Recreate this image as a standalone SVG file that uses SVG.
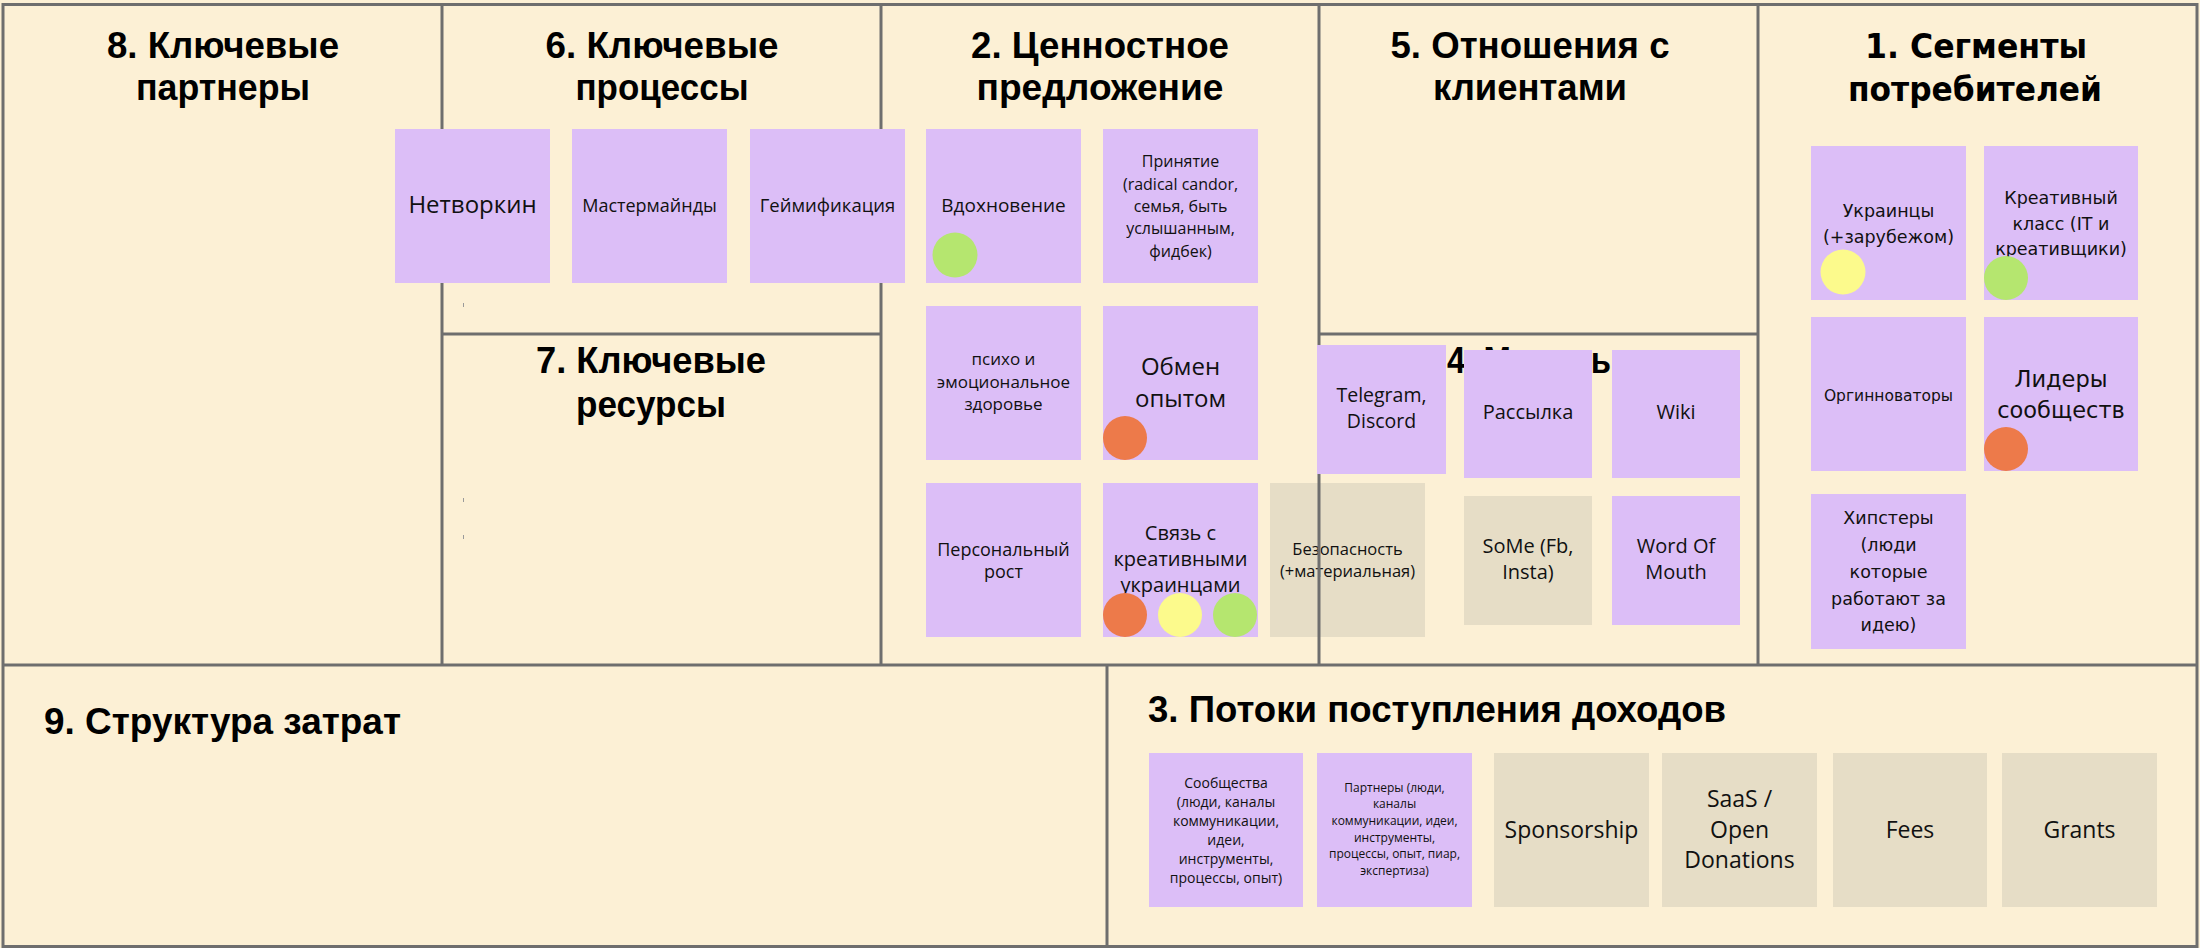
<svg xmlns="http://www.w3.org/2000/svg" width="2200" height="948" viewBox="0 0 2200 948">
<style>
.bg{fill:#fcf0d5}
.ln{stroke:#6e6e6e;stroke-width:3;fill:none}
.p{fill:#dcbef7}
.b{fill:#e6ddc6}
.t{font-family:"Liberation Sans",Arial,sans-serif;font-weight:bold;font-size:36px;fill:#000;text-anchor:middle}
.tw{font-family:"DejaVu Sans",Verdana,sans-serif;font-weight:bold;font-size:34px;fill:#000;text-anchor:middle}
.n{font-family:"Open Sans","Liberation Sans",sans-serif;fill:#111;text-anchor:middle}
.m{font-family:"DejaVu Sans",Verdana,sans-serif;fill:#111;text-anchor:middle}
.og{fill:#ed7a4a}.yl{fill:#fcfa8c}.gr{fill:#b5e66f}
.mk{fill:#9a9a9a}
</style>
<rect class="bg" x="0" y="0" width="2200" height="948"/>

<!-- section 4 title (largely hidden behind notes) -->
<text class="t" x="1447" y="373" style="text-anchor:start" textLength="164" lengthAdjust="spacingAndGlyphs">4. Модель</text>

<!-- note beneath the grid lines -->
<g id="note-bezopasnost">
<rect class="b" x="1270" y="483" width="155" height="154"/>
<text class="n" font-size="16.5" x="1347.5" y="555">Безопасность</text>
<text class="n" font-size="16.5" x="1347.5" y="577">(+материальная)</text>
</g>

<g id="grid">
<rect class="ln" x="3" y="4.5" width="2194" height="942"/>
<line class="ln" x1="3" y1="665" x2="2197" y2="665"/>
<line class="ln" x1="442" y1="4.5" x2="442" y2="665"/>
<line class="ln" x1="881" y1="4.5" x2="881" y2="665"/>
<line class="ln" x1="1319" y1="4.5" x2="1319" y2="665"/>
<line class="ln" x1="1758" y1="4.5" x2="1758" y2="665"/>
<line class="ln" x1="442" y1="334" x2="881" y2="334"/>
<line class="ln" x1="1319" y1="334" x2="1758" y2="334"/>
<line class="ln" x1="1107" y1="665" x2="1107" y2="946"/>
<rect class="mk" x="463" y="303" width="1" height="4"/>
<rect class="mk" x="463" y="498" width="1" height="4"/>
<rect class="mk" x="463" y="535" width="1" height="4"/>
</g>

<g id="connectors"></g>

<!-- section titles -->
<g id="sec-8"><text class="t" x="223" y="58" textLength="232" lengthAdjust="spacingAndGlyphs">8. Ключевые</text><text class="t" x="223" y="100" textLength="174" lengthAdjust="spacingAndGlyphs">партнеры</text></g>
<g id="sec-6"><text class="t" x="662" y="58" textLength="233" lengthAdjust="spacingAndGlyphs">6. Ключевые</text><text class="t" x="662" y="100" textLength="173" lengthAdjust="spacingAndGlyphs">процессы</text></g>
<g id="sec-7"><text class="t" x="651" y="373" textLength="230" lengthAdjust="spacingAndGlyphs">7. Ключевые</text><text class="t" x="651" y="417" textLength="150" lengthAdjust="spacingAndGlyphs">ресурсы</text></g>
<g id="sec-2"><text class="t" x="1100" y="58" textLength="258" lengthAdjust="spacingAndGlyphs">2. Ценностное</text><text class="t" x="1100" y="100" textLength="247" lengthAdjust="spacingAndGlyphs">предложение</text></g>
<g id="sec-5"><text class="t" x="1530" y="58" textLength="279" lengthAdjust="spacingAndGlyphs">5. Отношения с</text><text class="t" x="1530" y="100" textLength="194" lengthAdjust="spacingAndGlyphs">клиентами</text></g>
<g id="sec-1"><text class="tw" x="1976" y="58" textLength="222" lengthAdjust="spacingAndGlyphs">1. Сегменты</text><text class="tw" x="1975" y="101" textLength="254" lengthAdjust="spacingAndGlyphs">потребителей</text></g>
<g id="sec-9"><text class="t" x="44" y="734" style="text-anchor:start" textLength="357" lengthAdjust="spacingAndGlyphs">9. Структура затрат</text></g>
<g id="sec-3"><text class="t" x="1148" y="722" style="text-anchor:start" textLength="578" lengthAdjust="spacingAndGlyphs">3. Потоки поступления доходов</text></g>

<!-- 6. Key processes -->
<g id="note-networking"><rect class="p" x="395" y="129" width="155" height="154"/><text class="n" font-size="24" x="472.5" y="213">Нетворкин</text></g>
<g id="note-masterminds"><rect class="p" x="572" y="129" width="155" height="154"/><text class="n" font-size="18" x="649.5" y="212">Мастермайнды</text></g>
<g id="note-gamification"><rect class="p" x="750" y="129" width="155" height="154"/><text class="n" font-size="18.5" x="827.5" y="212">Геймификация</text></g>

<!-- 2. Value proposition -->
<g id="note-inspiration"><rect class="p" x="926" y="129" width="155" height="154"/><text class="n" font-size="19" x="1003.5" y="212">Вдохновение</text><circle class="gr" cx="955" cy="255" r="22.5"/></g>
<g id="note-acceptance"><rect class="p" x="1103" y="129" width="155" height="154"/>
<text class="n" font-size="16" x="1180.5" y="167">Принятие</text>
<text class="n" font-size="16" x="1180.5" y="190">(radical candor,</text>
<text class="n" font-size="16" x="1180.5" y="212">семья, быть</text>
<text class="n" font-size="16" x="1180.5" y="234">услышанным,</text>
<text class="n" font-size="16" x="1180.5" y="257">фидбек)</text></g>
<g id="note-psycho"><rect class="p" x="926" y="306" width="155" height="154"/>
<text class="n" font-size="17" x="1003.5" y="365">психо и</text>
<text class="n" font-size="17" x="1003.5" y="388">эмоциональное</text>
<text class="n" font-size="17" x="1003.5" y="410">здоровье</text></g>
<g id="note-exchange"><rect class="p" x="1103" y="306" width="155" height="154"/>
<text class="n" font-size="24" x="1180.5" y="375">Обмен</text>
<text class="n" font-size="24" x="1180.5" y="407">опытом</text>
<circle class="og" cx="1125" cy="438" r="22"/></g>
<g id="note-growth"><rect class="p" x="926" y="483" width="155" height="154"/>
<text class="n" font-size="18" x="1003.5" y="556">Персональный</text>
<text class="n" font-size="18" x="1003.5" y="578">рост</text></g>
<g id="note-connection"><rect class="p" x="1103" y="483" width="155" height="154"/>
<text class="n" font-size="20" x="1180.5" y="540">Связь с</text>
<text class="n" font-size="20" x="1180.5" y="566">креативными</text>
<text class="n" font-size="20" x="1180.5" y="592">украинцами</text>
<circle class="og" cx="1125" cy="615" r="22"/><circle class="yl" cx="1180" cy="615" r="22"/><circle class="gr" cx="1235" cy="615" r="22"/></g>

<!-- 4. Channels -->
<g id="note-telegram"><rect class="p" x="1317" y="345" width="129" height="129"/>
<text class="n" font-size="19.5" x="1381.5" y="402">Telegram,</text>
<text class="n" font-size="19.5" x="1381.5" y="428">Discord</text></g>
<g id="note-mailing"><rect class="p" x="1464" y="350" width="128" height="128"/><text class="n" font-size="20" x="1528" y="419">Рассылка</text></g>
<g id="note-wiki"><rect class="p" x="1612" y="350" width="128" height="128"/><text class="n" font-size="20" x="1676" y="419">Wiki</text></g>
<g id="note-some"><rect class="b" x="1464" y="496" width="128" height="129"/>
<text class="n" font-size="20" x="1528" y="553">SoMe (Fb,</text>
<text class="n" font-size="20" x="1528" y="579">Insta)</text></g>
<g id="note-wom"><rect class="p" x="1612" y="496" width="128" height="129"/>
<text class="n" font-size="20" x="1676" y="553">Word Of</text>
<text class="n" font-size="20" x="1676" y="579">Mouth</text></g>

<!-- 1. Customer segments -->
<g id="note-ukrainians"><rect class="p" x="1811" y="146" width="155" height="154"/>
<text class="m" font-size="17.5" x="1888.5" y="217">Украинцы</text>
<text class="m" font-size="17.5" x="1888.5" y="243">(+зарубежом)</text>
<circle class="yl" cx="1843" cy="272" r="22.5"/></g>
<g id="note-creative"><rect class="p" x="1984" y="146" width="154" height="154"/>
<text class="m" font-size="17.5" x="2061" y="204">Креативный</text>
<text class="m" font-size="17.5" x="2061" y="230">класс (IT и</text>
<text class="m" font-size="17.5" x="2061" y="255">креативщики)</text>
<circle class="gr" cx="2006" cy="278" r="22"/></g>
<g id="note-orginnovators"><rect class="p" x="1811" y="317" width="155" height="154"/><text class="m" font-size="15.5" x="1888.5" y="401">Оргинноваторы</text></g>
<g id="note-leaders"><rect class="p" x="1984" y="317" width="154" height="154"/>
<text class="m" font-size="22.5" x="2061" y="387">Лидеры</text>
<text class="m" font-size="22.5" x="2061" y="418">сообществ</text>
<circle class="og" cx="2006" cy="449" r="22"/></g>
<g id="note-hipsters"><rect class="p" x="1811" y="494" width="155" height="155"/>
<text class="m" font-size="17.5" x="1888.5" y="524">Хипстеры</text>
<text class="m" font-size="17.5" x="1888.5" y="551">(люди</text>
<text class="m" font-size="17.5" x="1888.5" y="578">которые</text>
<text class="m" font-size="17.5" x="1888.5" y="605">работают за</text>
<text class="m" font-size="17.5" x="1888.5" y="631">идею)</text></g>

<!-- 3. Revenue streams -->
<g id="note-communities"><rect class="p" x="1149" y="753" width="154" height="154"/>
<text class="n" font-size="14" x="1226" y="788">Сообщества</text>
<text class="n" font-size="14" x="1226" y="807">(люди, каналы</text>
<text class="n" font-size="14" x="1226" y="826">коммуникации,</text>
<text class="n" font-size="14" x="1226" y="845">идеи,</text>
<text class="n" font-size="14" x="1226" y="864">инструменты,</text>
<text class="n" font-size="14" x="1226" y="883">процессы, опыт)</text></g>
<g id="note-partners"><rect class="p" x="1317" y="753" width="155" height="154"/>
<text class="n" font-size="12" x="1394.5" y="792">Партнеры (люди,</text>
<text class="n" font-size="12" x="1394.5" y="808">каналы</text>
<text class="n" font-size="12" x="1394.5" y="825">коммуникации, идеи,</text>
<text class="n" font-size="12" x="1394.5" y="842">инструменты,</text>
<text class="n" font-size="12" x="1394.5" y="858">процессы, опыт, пиар,</text>
<text class="n" font-size="12" x="1394.5" y="875">экспертиза)</text></g>
<g id="note-sponsorship"><rect class="b" x="1494" y="753" width="155" height="154"/><text class="n" font-size="23" x="1571.5" y="838">Sponsorship</text></g>
<g id="note-saas"><rect class="b" x="1662" y="753" width="155" height="154"/>
<text class="n" font-size="23" x="1739.5" y="807">SaaS /</text>
<text class="n" font-size="23" x="1739.5" y="838">Open</text>
<text class="n" font-size="23" x="1739.5" y="868">Donations</text></g>
<g id="note-fees"><rect class="b" x="1833" y="753" width="154" height="154"/><text class="n" font-size="23" x="1910" y="838">Fees</text></g>
<g id="note-grants"><rect class="b" x="2002" y="753" width="155" height="154"/><text class="n" font-size="23" x="2079.5" y="838">Grants</text></g>
</svg>
